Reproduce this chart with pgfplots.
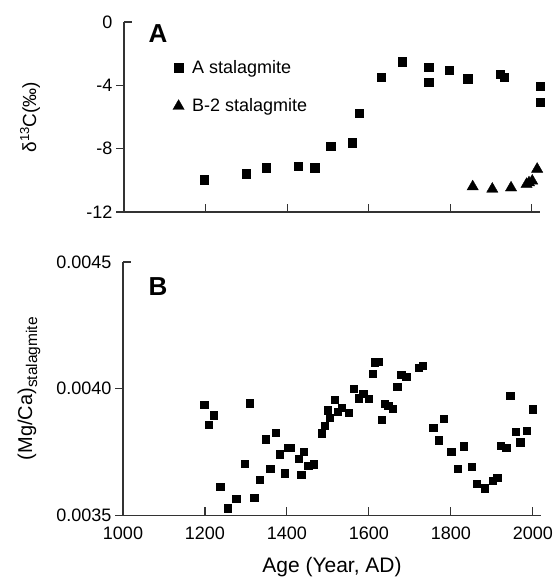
\documentclass[border=0pt]{standalone}
\usepackage{pgfplots}
\pgfplotsset{compat=1.18}
\usepackage{fontspec}
\setmainfont{Liberation Sans}
\begin{document}
\begin{tikzpicture}
\useasboundingbox (0pt,0pt) rectangle (558pt,577pt);
\pgfplotsset{
 base/.style={
  scale only axis,
  axis x line*=bottom, axis y line*=left,
  axis line style={line width=1.1pt, black!80},
  tick style={line width=1.1pt, black!80},
  tick align=outside, major tick length=8pt,
  every major x tick/.append style={yshift=8pt},
  xmin=1000, xmax=2020,
  xtick={1000,1200,1400,1600,1800,2000},
  tick label style={font=\fontsize{18}{18}\selectfont},
  clip=false,
 }
}
% ---- panel A ----
\begin{axis}[base, at={(124pt,365pt)}, anchor=south west, width=416pt, height=190pt,
  ymin=-12, ymax=0, ytick={-12,-8,-4}, yticklabels={-12,-8,-4},
  extra y ticks={0}, extra y tick labels={0},
  extra y tick style={every major y tick/.append style={xshift=8pt}},
  xticklabels={},
  legend style={at={(rel axis cs:0.11,0.82)}, anchor=north west, draw=none, fill=none,
    font=\fontsize{18}{18}\selectfont, row sep=20pt,
    /tikz/every odd column/.append style={column sep=6pt}},
  legend cell align=left,
]
\addplot[only marks, mark=square*, mark size=4.2pt, black] coordinates {
(1196,-9.97) (1300,-9.59) (1348,-9.19) (1427,-9.10) (1468,-9.19) (1507,-7.83)
(1560,-7.62) (1577,-5.77) (1630,-3.50) (1682,-2.52) (1747,-2.85) (1747,-3.80)
(1797,-3.06) (1843,-3.57) (1923,-3.29) (1932,-3.50) (2020,-4.07) (2020,-5.06)
};
\addlegendentry{A stalagmite}
\addplot[only marks, mark=triangle*, mark size=6.5pt, black] coordinates {
(1855,-10.40) (1903,-10.55) (1949,-10.47) (1987,-10.25) (1993,-10.15) (2001,-10.04) (2013,-9.29)
};
\addlegendentry{B-2 stalagmite}
\node[font=\fontsize{26}{26}\selectfont\bfseries] at (rel axis cs:0.082,0.937) {A};
\node[rotate=90, anchor=center, inner sep=0pt] at (rel axis cs:-0.226,0.5)
  {\fontsize{19}{19}\selectfont δ\raisebox{7pt}{\fontsize{13}{13}\selectfont 13}C(‰)};
\end{axis}
% ---- panel B ----
\begin{axis}[base, at={(123pt,61.5pt)}, anchor=south west, width=418pt, height=253.5pt,
  ymin=0.0035, ymax=0.0045, ytick={0.0035,0.0040}, yticklabels={0.0035,0.0040},
  extra y ticks={0.0045}, extra y tick labels={0.0045},
  extra y tick style={every major y tick/.append style={xshift=8pt}},
  scaled y ticks=false,
  xticklabels={1000,1200,1400,1600,1800,2000},
  xlabel={Age (Year, AD)},
  every axis x label/.style={at={(axis description cs:0.5,0)}, anchor=center, yshift=-51.5pt,
    font=\fontsize{21}{21}\selectfont},
]
\addplot[only marks, mark=square*, mark size=3.6pt, black] coordinates {
(1198,0.003938) (1210,0.003858) (1221,0.003896) (1237,0.003613) (1256,0.003529)
(1276,0.003566) (1296,0.003705) (1309,0.003943) (1320,0.003571) (1334,0.003642)
(1348,0.003801) (1359,0.003684) (1372,0.003827) (1383,0.003742) (1394,0.003667)
(1402,0.003768) (1409,0.003768) (1428,0.003725) (1435,0.003660) (1441,0.003751)
(1452,0.003697) (1466,0.003702) (1485,0.003825) (1493,0.003853) (1499,0.003915)
(1504,0.003886) (1516,0.003958) (1524,0.003908) (1534,0.003925) (1550,0.003907)
(1562,0.004000) (1576,0.003963) (1586,0.003980) (1600,0.003961) (1609,0.004060)
(1615,0.004105) (1623,0.004108) (1631,0.003878) (1638,0.003941) (1647,0.003933)
(1659,0.003920) (1669,0.004009) (1679,0.004055) (1691,0.004046) (1721,0.004083)
(1731,0.004090) (1757,0.003845) (1771,0.003797) (1783,0.003882) (1801,0.003751)
(1817,0.003684) (1832,0.003773) (1851,0.003692) (1864,0.003624) (1883,0.003608)
(1903,0.003637) (1913,0.003650) (1921,0.003774) (1935,0.003768) (1945,0.003972)
(1958,0.003829) (1969,0.003789) (1986,0.003835) (1999,0.003919)
};
\node[font=\fontsize{26}{26}\selectfont\bfseries] at (rel axis cs:0.084,0.905) {B};
\node[rotate=90, anchor=center, inner sep=0pt] at (rel axis cs:-0.225,0.5)
  {\fontsize{20}{20}\selectfont (Mg/Ca)\raisebox{-5pt}{\fontsize{15.5}{15.5}\selectfont stalagmite}};
\end{axis}
\end{tikzpicture}
\end{document}
